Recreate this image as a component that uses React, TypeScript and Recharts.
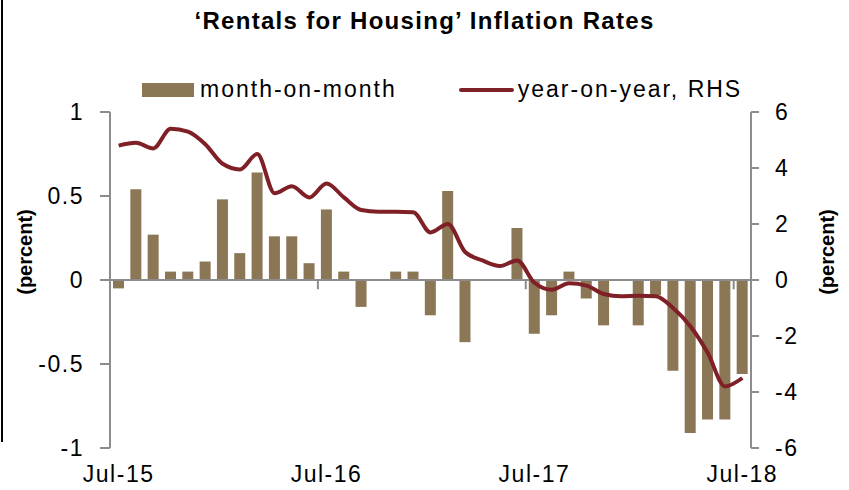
import React from "react";
import {
	ComposedChart,
	Bar,
	Line,
	XAxis,
	YAxis,
	ReferenceLine,
} from "recharts";

const months = [
	"Jul-15", "Aug-15", "Sep-15", "Oct-15", "Nov-15", "Dec-15",
	"Jan-16", "Feb-16", "Mar-16", "Apr-16", "May-16", "Jun-16",
	"Jul-16", "Aug-16", "Sep-16", "Oct-16", "Nov-16", "Dec-16",
	"Jan-17", "Feb-17", "Mar-17", "Apr-17", "May-17", "Jun-17",
	"Jul-17", "Aug-17", "Sep-17", "Oct-17", "Nov-17", "Dec-17",
	"Jan-18", "Feb-18", "Mar-18", "Apr-18", "May-18", "Jun-18",
	"Jul-18",
];

// month-on-month, LHS
const mom = [
	-0.05, 0.54, 0.27, 0.05, 0.05, 0.11,
	0.48, 0.16, 0.64, 0.26, 0.26, 0.1,
	0.42, 0.05, -0.16, 0, 0.05, 0.05,
	-0.21, 0.53, -0.37, 0, 0, 0.31,
	-0.32, -0.21, 0.05, -0.11, -0.27, 0,
	-0.27, -0.09, -0.54, -0.91, -0.83, -0.83,
	-0.56,
];

// year-on-year, RHS
const yoy = [
	4.8, 4.9, 4.7, 5.4, 5.3, 4.85,
	4.15, 3.95, 4.5, 3.1, 3.35, 2.95,
	3.45, 2.95, 2.5, 2.44, 2.44, 2.42,
	1.7, 2.0, 1.0, 0.7, 0.5, 0.7,
	-0.1, -0.35, -0.12, -0.2, -0.5, -0.58,
	-0.56, -0.58, -1.0, -1.65, -2.6, -3.8,
	-3.5,
];

const leftTicks = [-1, -0.5, 0, 0.5, 1];
const rightTicks = [-6, -4, -2, 0, 2, 4, 6];
const labelMonths = ["Jul-15", "Jul-16", "Jul-17", "Jul-18"];
const yearEnds = ["Jun-16", "Jun-17", "Jun-18"];

const data = months.map((m, i) => ({ month: m, mom: mom[i], yoy: yoy[i] }));

const BAR = "#8b7755";
const LINE = "#7f1f26";
const AXIS = "#8c8c8c";
const FONT = "'Liberation Sans', Arial, sans-serif";

const tickStyle = { fontSize: 23, fill: "#000", fontFamily: FONT, letterSpacing: 1.5 };

function axisTitle(dx: number) {
	return ({ viewBox }: any) => {
		const x = viewBox.x + dx;
		const y = viewBox.y + viewBox.height / 2 - 28;
		return (
			<text
				x={x}
				y={y}
				transform={`rotate(-90 ${x} ${y})`}
				textAnchor="middle"
				dominantBaseline="central"
				fontWeight="bold"
				fontSize={20}
				fontFamily={FONT}
			>
				(percent)
			</text>
		);
	};
}

export default function App() {
	return (
		<div style={{ position: "absolute", left: 0, top: 0, width: 849, height: 490, fontFamily: FONT }}>
			<div style={{ position: "absolute", left: 1, top: 0, width: 2, height: 442, background: "#000" }} />
			<div
				style={{
					position: "absolute",
					top: 7,
					left: 0,
					width: 849,
					textAlign: "center",
					fontWeight: "bold",
					fontSize: 24,
					letterSpacing: 1.3,
				}}
			>
				‘Rentals for Housing’ Inflation Rates
			</div>
			<div style={{ position: "absolute", top: 76, left: 142, display: "flex", alignItems: "center", fontSize: 23, letterSpacing: 2 }}>
				<span style={{ display: "inline-block", width: 52, height: 14, background: BAR, marginRight: 6 }} />
				<span>month-on-month</span>
				<span style={{ display: "inline-block", width: 55, height: 4, borderRadius: 2, background: LINE, marginLeft: 62, marginRight: 4 }} />
				<span>year-on-year, RHS</span>
			</div>
			<ComposedChart
				width={849}
				height={490}
				data={data}
				margin={{ top: 112, right: 0, bottom: 0, left: 0 }}
			>
				<XAxis
					dataKey="month"
					ticks={labelMonths}
					interval={0}
					axisLine={false}
					tickLine={false}
					tickMargin={12}
					height={42}
					tick={tickStyle}
				/>
				<YAxis
					yAxisId="left"
					domain={[-1, 1]}
					ticks={leftTicks}
					width={110}
					tickSize={10}
					tickMargin={16}
					axisLine={{ stroke: AXIS, strokeWidth: 2 }}
					tickLine={{ stroke: AXIS, strokeWidth: 2 }}
					tick={tickStyle}
					label={{ content: axisTitle(25) }}
				/>
				<YAxis
					yAxisId="right"
					orientation="right"
					domain={[-6, 6]}
					ticks={rightTicks}
					width={98}
					tickSize={8}
					tickMargin={16}
					axisLine={{ stroke: AXIS, strokeWidth: 2 }}
					tickLine={{ stroke: AXIS, strokeWidth: 2 }}
					tick={{ ...tickStyle, textAnchor: "start" }}
					label={{ content: axisTitle(76) }}
				/>
				<Bar yAxisId="left" dataKey="mom" fill={BAR} barSize={11} isAnimationActive={false} />
				<ReferenceLine yAxisId="left" y={0} stroke={AXIS} strokeWidth={2} />
				{yearEnds.map((m) => (
					<ReferenceLine
						key={m}
						yAxisId="left"
						position="end"
						segment={[
							{ x: m, y: 0 },
							{ x: m, y: -0.055 },
						]}
						stroke={AXIS}
						strokeWidth={2}
					/>
				))}
				<Line
					yAxisId="right"
					dataKey="yoy"
					type="monotone"
					stroke={LINE}
					strokeWidth={4}
					dot={false}
					isAnimationActive={false}
				/>
			</ComposedChart>
		</div>
	);
}
